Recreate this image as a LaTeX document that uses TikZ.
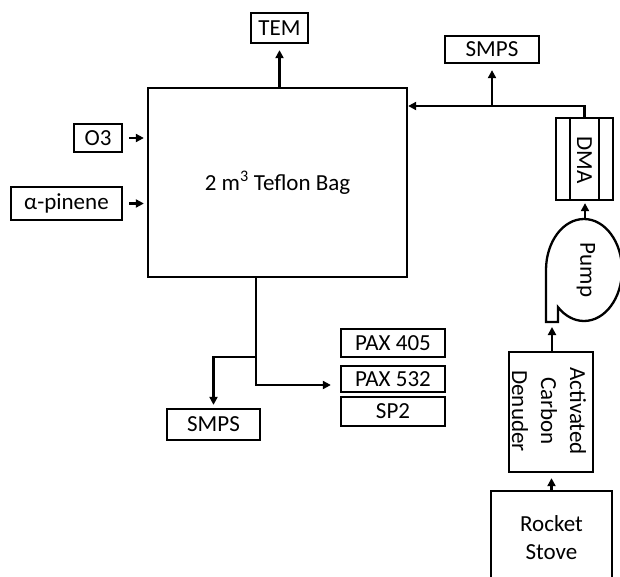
\documentclass[tikz,border=0pt]{standalone}
\usepackage{fontspec}
\setmainfont{Carlito}
\usetikzlibrary{arrows.meta,calc}
\begin{document}
\begin{tikzpicture}[x=1pt,y=-1pt,line width=2.3pt,
  box/.style={draw,rectangle,inner sep=0pt,font=\fontsize{23}{28}\selectfont},
  txt/.style={inner sep=0pt,font=\fontsize{23}{29}\selectfont},
  sz/.style 2 args={minimum width=#1,minimum height=#2},
  arr/.style={-{Triangle[length=8pt,width=8pt]}}]
\useasboundingbox (0,0) rectangle (620,577);
% boxes
\node[box,sz={259pt}{189pt}] (bag) at (277.5,182.5) {2 m\textsuperscript{3} Teflon Bag};
\node[box,sz={57pt}{30pt}] (tem) at (279.5,28) {TEM};
\node[box,sz={48pt}{28pt}] (o3) at (98,138) {O3};
\node[box,sz={111pt}{33pt}] (apin) at (66.5,203.5) {α-pinene};
\node[box,sz={94pt}{27pt}] (smpst) at (492,49.5) {SMPS};
\node[box,sz={57pt}{82pt}] (dma) at (584.5,159) {};
\node[txt,rotate=-90] (dmatxt) at (584.5,160) {DMA};
\draw (dma.north west) ++(15,0) -- ++(0,82);
\draw (dma.north east) ++(-15,0) -- ++(0,82);
\node[box,sz={84pt}{120pt}] (den) at (551,412) {};
\node[txt,rotate=-90,align=center] (dentxt) at (549,411) {Activated\\Carbon\\Denuder};
\node[box,sz={121pt}{94pt},align=center] (stove) at (551.5,538) {Rocket\\Stove};
\node[box,sz={93pt}{31pt}] (smpsb) at (213.5,424.5) {SMPS};
\node[box,sz={104pt}{28pt}] (pax405) at (393,343) {PAX 405};
\node[box,sz={104pt}{26pt}] (pax532) at (393,379) {PAX 532};
\node[box,sz={104pt}{29pt}] (sp2) at (393,411.5) {SP2};
% pump
\draw (546,322) -- (546,270) arc[start angle=180,end angle=493.2,x radius=38,y radius=51] -- (558,322) -- cycle;
\node[txt,rotate=-90] (pumptxt) at (586,270) {Pump};
\coordinate (pumptop) at (585,219);
\coordinate (pumptail) at (552,322);
% junctions
\coordinate (jt) at (492,106);
\coordinate (jb) at (256,357);
\coordinate (jc) at (256,385);
% connectors
\draw[arr,shorten >=6pt] (tem.south |- bag.north) -- (tem.south);
\draw[arr,shorten <=6pt,shorten >=3pt] (o3.east) -- (o3.east -| bag.west);
\draw[arr,shorten <=6pt,shorten >=3pt] (apin.east) -- (apin.east -| bag.west);
\draw[arr] (dma.north) |- (bag.east |- jt);
\draw[arr,shorten >=6pt] (jt) -- (smpst.south);
\draw[arr,shorten >=2pt] (pumptop) -- (pumptop |- dma.south);
\draw[arr,shorten >=5pt] (pumptail |- den.north) -- (pumptail);
\draw[arr,shorten >=5pt] (stove.north) -- (stove.north |- den.south);
\draw[arr,shorten >=9pt] (bag.south -| jc) -- (jc) -- (jc -| pax532.west);
\draw[arr,shorten >=3pt] (jb) -| (smpsb.north);
\end{tikzpicture}
\end{document}
